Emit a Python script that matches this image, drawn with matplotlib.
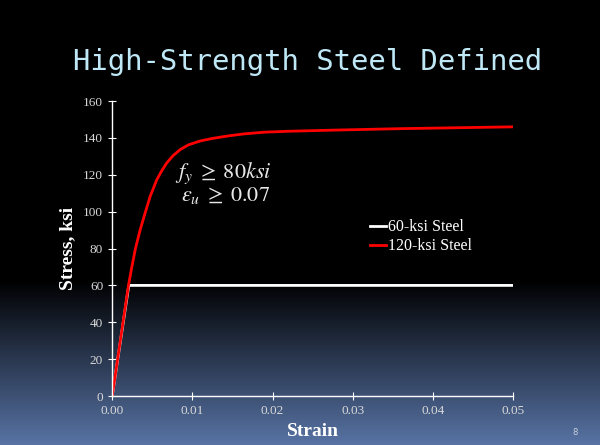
import matplotlib.pyplot as plt
import numpy as np

# stress-strain data (strain in in/in, stress in ksi)
strain_120 = [0, 0.00203, 0.00245, 0.0029, 0.00348, 0.0041, 0.00473, 0.00556,
              0.0062, 0.0068, 0.0076, 0.00846, 0.0095, 0.01095, 0.0125, 0.0145,
              0.0165, 0.019, 0.022, 0.0275, 0.0358, 0.043, 0.05]
stress_120 = [0, 60, 70, 80, 90, 99.2, 108.2, 117.3, 122.3, 126.4, 130.4, 133.6,
              136.2, 138.3, 139.7, 141.1, 142.2, 143.1, 143.6, 144.2, 145,
              145.5, 146]

strain_60 = [0, 0.00207, 0.05]
stress_60 = [0, 60, 60]

xticks = [0.00, 0.01, 0.02, 0.03, 0.04, 0.05]
yticks = [0, 20, 40, 60, 80, 100, 120, 140, 160]

plt.rcParams['mathtext.fontset'] = 'stix'

fig = plt.figure(figsize=(6, 4.45), dpi=100)

# slide background: black fading into slate blue near the bottom
bg = fig.add_axes([0, 0, 1, 1], zorder=-10)
rows = 445
t = np.clip((np.arange(rows) - 280) / (rows - 280), 0, 1)[:, None]
top = np.array([0, 0, 0])
bottom = np.array([88, 116, 165]) / 255
grad = (top + t * (bottom - top))[:, None, :] * np.ones((1, 2, 1))
bg.imshow(grad, aspect='auto', extent=[0, 1, 0, 1], origin='upper')
bg.axis('off')

fig.text(0.513, 0.86, 'High-Strength Steel Defined', ha='center', va='center',
         family='DejaVu Sans Mono', fontsize=20.8, color='#bfe8f7')

ax = fig.add_axes([0.187, 0.110, 0.668, 0.663])
ax.set_facecolor('none')

ax.plot(strain_60, stress_60, color='white', lw=2, label='60-ksi Steel')
ax.plot(strain_120, stress_120, color='#ff0000', lw=2, label='120-ksi Steel',
        solid_joinstyle='round')

ax.set_xlim(0, 0.05)
ax.set_ylim(0, 160)
ax.set_xticks(xticks)
ax.set_xticklabels([f'{v:.2f}' for v in xticks])
ax.set_yticks(yticks)

for s in ['top', 'right']:
    ax.spines[s].set_visible(False)
for s in ['left', 'bottom']:
    ax.spines[s].set_color('white')
    ax.spines[s].set_linewidth(1)

ax.tick_params(colors='white', labelcolor='#d8d8d8', direction='inout',
               length=6, width=0.8, labelsize=9.5)
for lbl in ax.get_xticklabels() + ax.get_yticklabels():
    lbl.set_family('Liberation Serif')

ax.set_xlabel('Strain', family='Liberation Serif', fontweight='bold',
              fontsize=14, color='white', labelpad=4)
ax.set_ylabel('Stress, ksi', family='Liberation Serif', fontweight='bold',
              fontsize=14, color='white', labelpad=5)

ax.text(0.0139, 121, r'$f_y\;\geq\;80ksi$', ha='center', va='center',
        fontsize=16, color='#e8e8e8')
ax.text(0.0141, 108.5, r'$\varepsilon_u\;\geq\;0.07$', ha='center', va='center',
        fontsize=16, color='#e8e8e8')

leg = ax.legend(loc='upper left', bbox_to_anchor=(0.608, 0.648), frameon=False,
                handlelength=1.0, handletextpad=0.1, labelspacing=0.2,
                prop={'family': 'Liberation Serif', 'size': 11.5})
for txt in leg.get_texts():
    txt.set_color('white')

fig.text(0.958, 0.018, '8', ha='center', va='bottom', fontsize=6,
         color='#c8d0dc')

fig.savefig('out.png', dpi=100)
